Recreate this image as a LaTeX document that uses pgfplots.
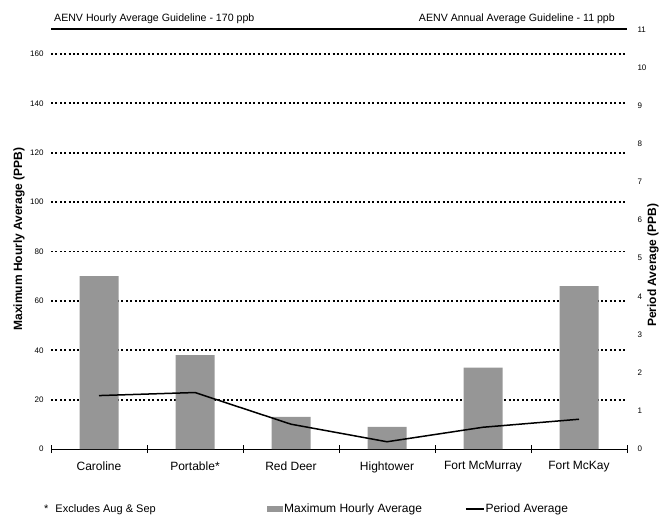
\documentclass[border=0pt]{standalone}
\usepackage{fontspec}
\setmainfont{Liberation Sans}
\usepackage{pgfplots}
\pgfplotsset{compat=1.18}

\definecolor{barfill}{HTML}{969696}

\newcommand{\tickfont}{\fontsize{8bp}{9bp}\selectfont}
\newcommand{\mainfont}{\fontsize{12bp}{14bp}\selectfont}
\newcommand{\guidefont}{\fontsize{10.6bp}{12bp}\selectfont}

\begin{document}
\begin{tikzpicture}
\path[use as bounding box] (0,0) rectangle (663bp,517bp);

% Maximum hourly average (left axis, bars)
\begin{axis}[
  at={(51bp,68bp)}, anchor=south west,
  scale only axis, width=576bp, height=419.7bp,
  xmin=-0.5, xmax=5.5, ymin=0, ymax=170,
  clip=false,
  axis x line*=bottom, axis y line*=left,
  y axis line style={draw=none},
  x axis line style={black, line width=0.8bp},
  xtick={0,...,5},
  xticklabels={Caroline, Portable*, Red Deer, Hightower, Fort McMurray, Fort McKay},
  minor xtick={-0.5,0.5,...,5.5},
  major tick length=0pt, minor tick length=8bp, tick align=center,
  every tick/.style={black, line width=0.8bp},
  minor tick style={black, line width=0.8bp},
  xticklabel style={font=\mainfont, yshift=-9bp},
  ytick={20,40,...,160},
  extra y ticks={0},
  extra y tick style={grid=none},
  yticklabel style={font=\tickfont, xshift=-4bp},
  /pgf/number format/assume math mode=true,
  ymajorgrids,
  grid style={black, line width=1.8bp, dash pattern=on 2bp off 2.4bp},
  ylabel={\textbf{Maximum Hourly Average (PPB)}},
  ylabel style={font=\mainfont, at={(axis description cs:-0.0556,0.5)}, anchor=center},
  legend columns=2,
  legend style={at={(axis description cs:0.375,-0.143)}, anchor=west,
    draw=none, fill=none, inner sep=0pt, font=\mainfont,
    nodes={inner sep=1bp},
    /tikz/every even column/.append style={column sep=42bp}},
]
\addplot[ybar, fill=barfill, draw=none, bar width=39bp, bar shift=0pt,
  legend image code/.code={\fill[barfill] (0bp,-3bp) rectangle (16bp,3bp);}]
  coordinates {(0,70) (1,38) (2,13) (3,9) (4,33) (5,66)};
\addlegendentry{Maximum Hourly Average}
\addlegendimage{legend image code/.code={\draw[black,line width=1.5bp] (0bp,0bp) -- (18bp,0bp);}}
\addlegendentry{Period Average}

% guideline at 170 ppb
\addplot[black, line width=2bp, forget plot] coordinates {(-0.5,170) (5.5,170)};
\end{axis}

% Period average (right axis, line)
\begin{axis}[
  at={(51bp,68bp)}, anchor=south west,
  scale only axis, width=576bp, height=419.7bp,
  xmin=-0.5, xmax=5.5, ymin=0, ymax=11,
  hide x axis,
  axis y line*=right,
  y axis line style={draw=none},
  ytick={0,...,11},
  major tick length=0pt,
  yticklabel style={font=\tickfont, xshift=7bp},
  /pgf/number format/assume math mode=true,
  ylabel={\textbf{Period Average (PPB)}},
  ylabel style={font=\mainfont, at={(axis description cs:1.0451,0.438)}, anchor=center},
]
\addplot[black, line width=1.5bp] coordinates {(0,1.40) (1,1.48) (2,0.65) (3,0.19) (4,0.57) (5,0.78)};
\end{axis}

\node[font=\guidefont, anchor=base west, inner sep=0pt] at (54bp,495bp) {AENV Hourly Average Guideline - 170 ppb};
\node[font=\guidefont, anchor=base east, inner sep=0pt] at (615bp,495bp) {AENV Annual Average Guideline - 11 ppb};
\node[font=\fontsize{11bp}{13bp}\selectfont, anchor=base west, inner sep=0pt] at (44bp,5bp) {*\hspace{7bp}Excludes Aug \& Sep};
\end{tikzpicture}
\end{document}
